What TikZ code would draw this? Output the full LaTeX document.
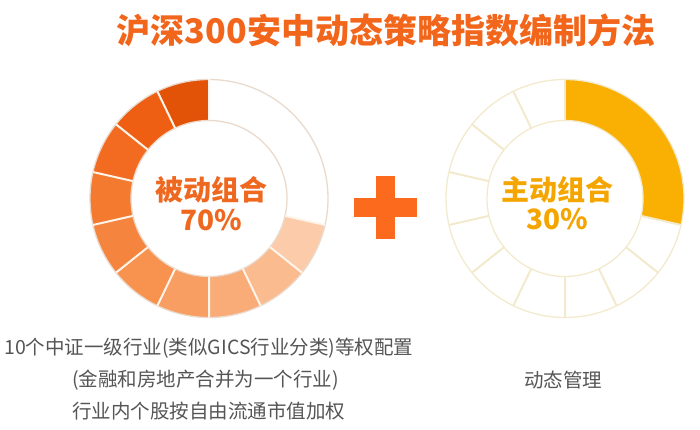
\documentclass[tikz,border=0pt]{standalone}
\usepackage{fontspec}
\setmainfont{Noto Sans CJK SC}
\usetikzlibrary{positioning,calc}

\definecolor{titleorange}{HTML}{F2661C}
\definecolor{ringline}{HTML}{EBDACB}
\definecolor{segline}{HTML}{FFF4EA}
\definecolor{activefill}{HTML}{F9B003}
\definecolor{activeline}{HTML}{F3EACD}
\definecolor{passivetext}{HTML}{EE6820}
\definecolor{activetext}{HTML}{F5A500}
\definecolor{plusorange}{HTML}{FC6A1E}
\definecolor{bodygray}{HTML}{555555}

\newcommand{\ringout}{119pt}
\newcommand{\ringin}{78pt}
\newcommand{\segang}{25.714}
\newcommand{\plusarm}{31.5}
\newcommand{\plushalf}{9.5}

\begin{document}
\begin{tikzpicture}[x=1pt,y=1pt,
  ringtext/.style={font=\bfseries\fontsize{28}{28}\selectfont, inner sep=0pt},
  bodytext/.style={font=\fontsize{19.5}{21}\selectfont, text=bodygray, anchor=west, inner sep=0pt}]
  \useasboundingbox (0,0) rectangle (700,429);

  \coordinate (L) at (209,230.5);
  \coordinate (R) at (565,230.5);
  \coordinate (P) at (385.5,221.5);

  \node [font=\bfseries\fontsize{34}{34}\selectfont, text=titleorange] (title) at (386,399) {沪深300安中动态策略指数编制方法};

  % passive ring, ten shaded pieces
  \begin{scope}[shift={(L)}]
    \foreach \i/\c in {0/E25207, 1/EE5F14, 2/F26B20, 3/F47A30, 4/F5853E,
                       5/F7924F, 6/F89E62, 7/F9AC78, 8/FABB8F, 9/FCCBAA}{
      \pgfmathsetmacro{\s}{90+\i*\segang}
      \pgfmathsetmacro{\e}{90+(\i+1)*\segang}
      \definecolor{segfill}{HTML}{\c}
      \fill [segfill] (\s:\ringout) arc [start angle=\s, end angle=\e, radius=\ringout]
        -- (\e:\ringin) arc [start angle=\e, end angle=\s, radius=\ringin] -- cycle;
    }
    \draw [ringline, line width=1.3] (0,0) circle [radius=\ringout];
    \draw [ringline, line width=1.3] (0,0) circle [radius=\ringin];
    \foreach \i in {0,...,10}
      \draw [segline, line width=2] (90+\i*\segang:\ringin) -- (90+\i*\segang:\ringout);
  \end{scope}

  % active ring
  \begin{scope}[shift={(R)}]
    \fill [activefill] (90:\ringout) arc [start angle=90, end angle=90-4*\segang, radius=\ringout]
      -- (90-4*\segang:\ringin) arc [start angle=90-4*\segang, end angle=90, radius=\ringin] -- cycle;
    \draw [activeline, line width=1.3] (0,0) circle [radius=\ringout];
    \draw [activeline, line width=1.3] (0,0) circle [radius=\ringin];
    \foreach \i in {0,...,10}
      \draw [activeline, line width=2] (90+\i*\segang:\ringin) -- (90+\i*\segang:\ringout);
  \end{scope}

  \node [ringtext, text=passivetext] (passivename) at (211.5,239) {被动组合};
  \node [ringtext, text=passivetext, below=5pt of passivename] (passivepct) {70\%};
  \node [ringtext, text=activetext] (activename) at (557,239) {主动组合};
  \node [ringtext, text=activetext, below=5pt of activename] (activepct) {30\%};

  \fill [plusorange] ($(P)+(-\plushalf,-\plusarm)$) rectangle ($(P)+(\plushalf,\plusarm)$);
  \fill [plusorange] ($(P)+(-\plusarm,-\plushalf)$) rectangle ($(P)+(\plusarm,\plushalf)$);

  \node [bodytext] (rule1) at (4,81) {10个中证一级行业(类似GICS行业分类)等权配置};
  \node [bodytext] (rule2) at (72,49) {(金融和房地产合并为一个行业)};
  \node [bodytext] (rule3) at (72,18) {行业内个股按自由流通市值加权};
  \node [bodytext, anchor=center] (activerule) at (563,49) {动态管理};
\end{tikzpicture}
\end{document}
